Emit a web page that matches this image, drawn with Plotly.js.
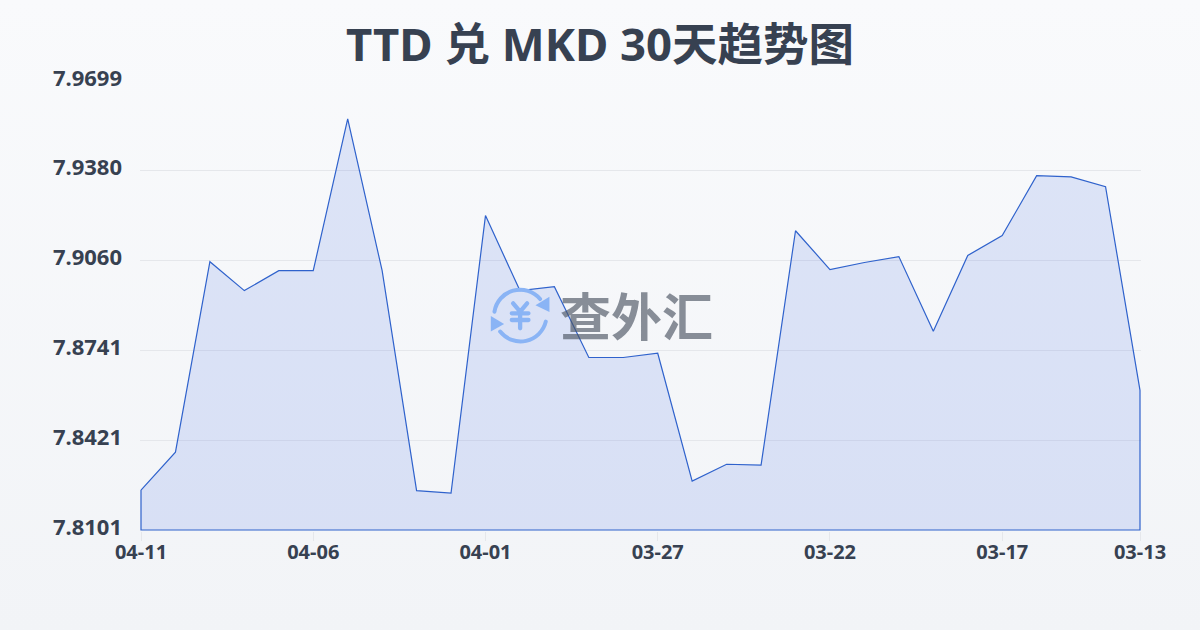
<!DOCTYPE html>
<html><head><meta charset="utf-8">
<script src="https://cdn.plot.ly/plotly-3.0.1.min.js"></script>
<style>
html,body{margin:0;padding:0;width:1200px;height:630px;overflow:hidden;background:linear-gradient(180deg,#f9fafc 0%,#f2f4f7 100%);}
#chart{width:1200px;height:630px;}
</style></head><body><div id="chart"></div>
<script>
const dates=["04-11","04-10","04-09","04-08","04-07","04-06","04-05","04-04","04-03","04-02","04-01","03-31","03-30","03-29","03-28","03-27","03-26","03-25","03-24","03-23","03-22","03-21","03-20","03-19","03-18","03-17","03-16","03-15","03-14","03-13"];
const rates=[7.8243,7.8378,7.9056,7.8953,7.9024,7.9024,7.9564,7.9024,7.8241,7.8232,7.9220,7.8953,7.8967,7.8715,7.8715,7.8730,7.8275,7.8335,7.8332,7.9166,7.9028,7.9053,7.9074,7.8808,7.9078,7.9149,7.9362,7.9358,7.9323,7.8598];
const xTicks=["04-11","04-06","04-01","03-27","03-22","03-17","03-13"];
const yTicks=[7.8101,7.8421,7.8741,7.9060,7.9380,7.9699];
const yLabels=["7.8101","7.8421","7.8741","7.9060","7.9380","7.9699"];
const titleText="TTD 兑 MKD 30天趋势图";
const watermark="查外汇";
const font='"Noto Sans","Noto Sans CJK SC",sans-serif';
const cjkFont='"Noto Sans CJK SC","Noto Sans",sans-serif';
const yMin=yTicks[0],yMax=yTicks[yTicks.length-1];
const first=dates[0],last=dates[dates.length-1];
const yPad=(yMax-yMin)/450, xPad=(dates.length-1)/1000;
const logo='<svg xmlns="http://www.w3.org/2000/svg" viewBox="0 0 210 210"><g fill="none" stroke="#8ab4f5" stroke-linecap="round" stroke-linejoin="round"><path stroke-width="12" d="M28 95A78 78 0 0 1 165 57"/><path stroke-width="12" d="M182 125A78 78 0 0 1 45 155"/><path stroke-width="13" d="M84 70l21 25 21-25M105 95v50M80 100h50M80 120h50"/></g><path d="M193 50v46l-42-20z" fill="#8ab4f5"/><path d="M17 108v47l40-23z" fill="#8ab4f5"/></svg>';
Plotly.newPlot('chart',[{
  type:'scatter',mode:'lines',
  x:dates.concat([last,first,first]),
  y:rates.concat([yMin,yMin,rates[0]]),
  fill:'toself',fillcolor:'rgba(65,105,225,0.15)',
  line:{color:'#2f62cc',width:1.2,shape:'linear'},
  hoverinfo:'skip',showlegend:false
}],{
  width:1200,height:630,
  paper_bgcolor:'rgba(0,0,0,0)',plot_bgcolor:'rgba(0,0,0,0)',
  margin:{l:139.5,r:58.5,t:79.5,b:98.5},
  title:{text:titleText,x:0.5,xanchor:'center',y:0.928,yanchor:'middle',font:{family:font,size:45.5,color:'#374151',weight:700}},
  xaxis:{type:'category',categoryorder:'array',categoryarray:dates,range:[-xPad,dates.length-1+xPad],
    tickmode:'array',tickvals:xTicks,ticktext:xTicks,ticks:'outside',ticklen:9,tickwidth:1,tickcolor:'#e5e7eb',
    showgrid:false,zeroline:false,showline:false,ticklabelstandoff:-6,
    tickfont:{family:font,size:20,color:'#374151',weight:700}},
  yaxis:{range:[yMin-yPad,yMax+yPad],tickmode:'array',tickvals:yTicks,ticktext:yLabels,ticks:'',
    showgrid:true,gridcolor:'#e5e7eb',gridwidth:1,zeroline:false,showline:false,ticklabelstandoff:17,ticklabelshift:-3,
    tickfont:{family:font,size:22,color:'#374151',weight:700}},
  images:[{source:'data:image/svg+xml;base64,'+btoa(logo),xref:'paper',yref:'paper',
    x:(485-139.5)/1002,y:1-(280-79.5)/452,sizex:70/1002,sizey:70/452,xanchor:'left',yanchor:'top',layer:'above',sizing:'stretch'}],
  annotations:[{text:watermark,xref:'paper',yref:'paper',x:(636-139.5)/1002,y:1-(314-79.5)/452,xanchor:'center',yanchor:'middle',showarrow:false,
    font:{family:cjkFont,size:51,color:'rgba(75,85,99,0.65)',weight:700}}]
},{displayModeBar:false,staticPlot:true});
</script></body></html>
